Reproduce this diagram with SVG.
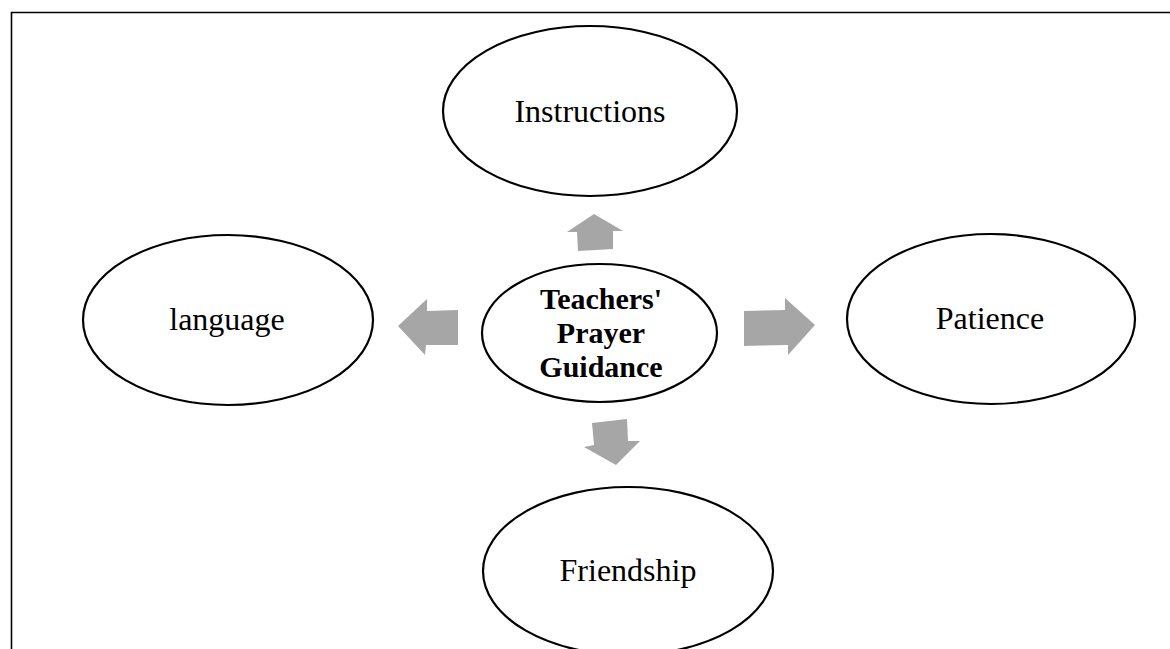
<svg xmlns="http://www.w3.org/2000/svg" width="1170" height="649" viewBox="0 0 1170 649">
<style>
.node{fill:#fff;stroke:#000;stroke-width:2.2}
.lbl{font-family:"Liberation Serif","Times New Roman",serif;font-size:32px;fill:#000;text-anchor:middle}
.bold{font-weight:bold;font-size:30px}
.arrow{fill:#a6a6a6}
</style>
<rect width="1170" height="649" fill="#fff"/>
<path d="M11.5,649 V12.5 H1170" fill="none" stroke="#000" stroke-width="1.6"/>
<g id="connectors">
<polygon class="arrow" points="594,214 623,231 613,231 613,249 578,251 577,232 567,232"/>
<polygon class="arrow" points="398,326 427,299 427,311 458,310 458,345 426,345 425,355"/>
<polygon class="arrow" points="744,311 785,310 785,298 815,325 788,355 788,345 744,346"/>
<polygon class="arrow" points="592,423 627,419 628,441 640,441 616,465 584,447 594,445"/>
</g>
<g id="instructions">
<ellipse class="node" cx="590" cy="111" rx="147" ry="85"/>
<text class="lbl" x="590" y="122">Instructions</text>
</g>
<g id="language">
<ellipse class="node" cx="228" cy="320" rx="145" ry="85"/>
<text class="lbl" x="227" y="330">language</text>
</g>
<g id="patience">
<ellipse class="node" cx="991" cy="319" rx="144" ry="85"/>
<text class="lbl" x="990" y="329">Patience</text>
</g>
<g id="friendship">
<ellipse class="node" cx="628" cy="571" rx="145" ry="84"/>
<text class="lbl" x="628" y="581">Friendship</text>
</g>
<g id="center">
<ellipse class="node" cx="599.5" cy="333" rx="117.5" ry="69"/>
<text class="lbl bold" x="601" y="309">Teachers'</text>
<text class="lbl bold" x="601" y="343">Prayer</text>
<text class="lbl bold" x="601" y="377">Guidance</text>
</g>
</svg>
